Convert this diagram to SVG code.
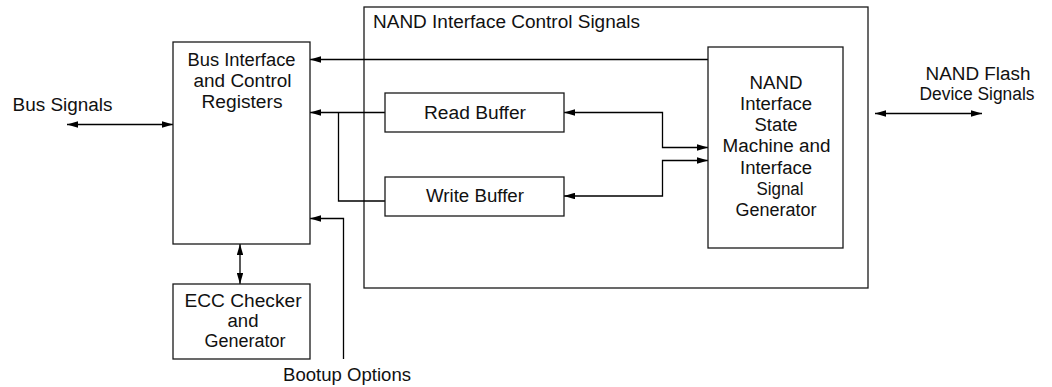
<svg xmlns="http://www.w3.org/2000/svg" width="1052" height="387" viewBox="0 0 1052 387">
  <style>
    .box { fill: #fff; stroke: #1a1a1a; stroke-width: 1.3; }
    .frame { fill: none; stroke: #1a1a1a; stroke-width: 1.3; }
    .wire { fill: none; stroke: #000; stroke-width: 1.3; }
    text { font-family: "Liberation Sans", Arial, sans-serif; font-size: 18px; fill: #111; }
    .mid { text-anchor: middle; }
  </style>
  <defs>
    <marker id="head" viewBox="0 0 11 6.5" refX="11" refY="3.25" markerWidth="11" markerHeight="6.5" markerUnits="userSpaceOnUse" orient="auto-start-reverse">
      <path d="M0,0 L11,3.25 L0,6.5 z" fill="#000"/>
    </marker>
  </defs>

  <rect width="1052" height="387" fill="#fff"/>

  <!-- NAND interface control block (container) -->
  <g id="nand-control">
    <rect class="frame" x="364" y="7" width="504" height="281"/>
    <text x="373" y="28" textLength="267" lengthAdjust="spacingAndGlyphs">NAND Interface Control Signals</text>
  </g>

  <!-- connectors -->
  <g id="connectors">
    <!-- bus signals, bidirectional -->
    <path class="wire" d="M67,124.5 H173" marker-start="url(#head)" marker-end="url(#head)"/>
    <!-- state machine to bus interface -->
    <path class="wire" d="M708,59.5 H310" marker-end="url(#head)"/>
    <!-- read buffer to bus interface -->
    <path class="wire" d="M385,112.5 H310" marker-end="url(#head)"/>
    <!-- write buffer joins read path -->
    <path class="wire" d="M385,201 H338.5 V112.5"/>
    <!-- bootup options -->
    <path class="wire" d="M343.5,359 V218.5 H310" marker-end="url(#head)"/>
    <!-- bus interface to ECC, bidirectional -->
    <path class="wire" d="M240,244 V284" marker-start="url(#head)" marker-end="url(#head)"/>
    <!-- read buffer to state machine -->
    <path class="wire" d="M564,112.5 H662.5 V147.5 H708" marker-start="url(#head)" marker-end="url(#head)"/>
    <!-- write buffer to state machine -->
    <path class="wire" d="M564,196 H662.5 V160.5 H708" marker-start="url(#head)" marker-end="url(#head)"/>
    <!-- NAND flash device signals, bidirectional -->
    <path class="wire" d="M875,113.5 H982" marker-start="url(#head)" marker-end="url(#head)"/>
  </g>

  <g id="bus-interface">
    <rect class="box" x="173" y="42" width="137" height="202"/>
    <text class="mid" x="241.5" y="66" textLength="108" lengthAdjust="spacingAndGlyphs">Bus Interface</text>
    <text class="mid" x="242.5" y="87" textLength="98" lengthAdjust="spacingAndGlyphs">and Control</text>
    <text class="mid" x="242" y="107.5" textLength="81" lengthAdjust="spacingAndGlyphs">Registers</text>
  </g>

  <g id="ecc">
    <rect class="box" x="173" y="284" width="137" height="75"/>
    <text class="mid" x="243" y="306.5" textLength="117" lengthAdjust="spacingAndGlyphs">ECC Checker</text>
    <text class="mid" x="243" y="326.5" textLength="31" lengthAdjust="spacingAndGlyphs">and</text>
    <text class="mid" x="245" y="346.5" textLength="81" lengthAdjust="spacingAndGlyphs">Generator</text>
  </g>

  <g id="read-buffer">
    <rect class="box" x="385" y="93" width="179" height="39"/>
    <text class="mid" x="475" y="119" textLength="102" lengthAdjust="spacingAndGlyphs">Read Buffer</text>
  </g>

  <g id="write-buffer">
    <rect class="box" x="385" y="177" width="179" height="39"/>
    <text class="mid" x="475" y="202" textLength="98" lengthAdjust="spacingAndGlyphs">Write Buffer</text>
  </g>

  <g id="state-machine">
    <rect class="box" x="708" y="47" width="135" height="201"/>
    <text class="mid" x="776" y="88.5" textLength="53" lengthAdjust="spacingAndGlyphs">NAND</text>
    <text class="mid" x="776" y="109.8" textLength="72" lengthAdjust="spacingAndGlyphs">Interface</text>
    <text class="mid" x="776" y="131.1" textLength="43" lengthAdjust="spacingAndGlyphs">State</text>
    <text class="mid" x="776.5" y="152.4" textLength="108" lengthAdjust="spacingAndGlyphs">Machine and</text>
    <text class="mid" x="776" y="173.7" textLength="72" lengthAdjust="spacingAndGlyphs">Interface</text>
    <text class="mid" x="780" y="195" textLength="47" lengthAdjust="spacingAndGlyphs">Signal</text>
    <text class="mid" x="776" y="216.3" textLength="81" lengthAdjust="spacingAndGlyphs">Generator</text>
  </g>

  <g id="labels">
    <text x="12.5" y="110.5" textLength="100" lengthAdjust="spacingAndGlyphs">Bus Signals</text>
    <text class="mid" x="978" y="80" textLength="105" lengthAdjust="spacingAndGlyphs">NAND Flash</text>
    <text class="mid" x="977" y="99.5" textLength="115" lengthAdjust="spacingAndGlyphs">Device Signals</text>
    <text class="mid" x="347" y="381" textLength="128" lengthAdjust="spacingAndGlyphs">Bootup Options</text>
  </g>
</svg>
